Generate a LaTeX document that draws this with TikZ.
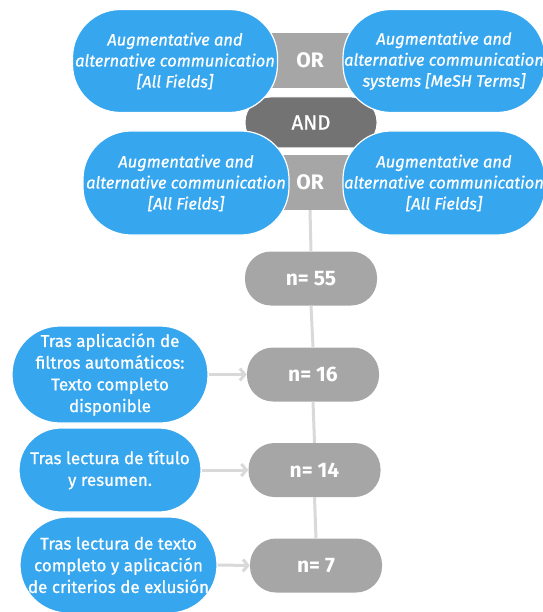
\documentclass[tikz,border=0pt]{standalone}
\usepackage{fontspec}
\setmainfont{Fira Sans}
\newfontfamily\medfont{Fira Sans}[FakeBold=0.8]
\usetikzlibrary{arrows.meta}
\definecolor{pillblue}{HTML}{36A6EE}
\definecolor{orgray}{HTML}{A6A6A6}
\definecolor{andgray}{HTML}{737373}
\definecolor{linegray}{HTML}{D9D9D9}
\tikzset{
  bluepill/.style={fill=pillblue, draw=white, line width=1.2pt, rounded corners=48pt,
    text=white, align=center, inner sep=0pt},
  querytext/.style={font=\medfont\fontsize{16.5}{21}\selectfont\itshape},
  steptext/.style={font=\medfont\fontsize{17}{21.7}\selectfont},
  orbox/.style={fill=orgray, draw=none, text=white, inner sep=0pt,
    minimum width=86pt, minimum height=55pt, font=\fontsize{21}{22}\selectfont\bfseries},
  andpill/.style={fill=andgray, draw=white, line width=1pt, rounded corners=25pt, text=white,
    inner sep=0pt, minimum width=132pt, minimum height=51pt, font=\medfont\fontsize{20.5}{22}\selectfont},
  countpill/.style={fill=orgray, draw=none, rounded corners=26pt, text=white, inner sep=0pt,
    minimum width=132pt, minimum height=54pt, font=\fontsize{21}{22}\selectfont\bfseries},
  vline/.style={draw=linegray, line width=3pt},
  sidearrow/.style={draw=linegray, line width=3pt, -{Straight Barb[length=5pt,width=12pt]}}
}
\begin{document}
\begin{tikzpicture}[x=1pt,y=-1pt]
\useasboundingbox (0,0) rectangle (542,612);
% operator boxes
\node[orbox] (or1) at (310,60.5) {OR};
\node[orbox] (or2) at (310,182.5) {OR};
\node[andpill] (and) at (311,122.5) {AND};
% query pills
\node[bluepill, querytext, minimum width=205pt, minimum height=103pt] (tl) at (175,61)
  {Augmentative and\\alternative communication\\{[}All Fields{]}};
\node[bluepill, querytext, minimum width=202pt, minimum height=103pt] (tr) at (444,61)
  {Augmentative and\\alternative communication\\systems {[}MeSH Terms{]}};
\node[bluepill, querytext, minimum width=206pt, minimum height=104pt] (bl) at (186,183)
  {Augmentative and\\alternative communication\\{[}All Fields{]}};
\node[bluepill, querytext, minimum width=202pt, minimum height=104pt] (br) at (444,183)
  {Augmentative and\\alternative communication\\{[}All Fields{]}};
% counts
\node[countpill] (n55) at (311,278.5) {n= 55};
\node[countpill] (n16) at (313,374.5) {n= 16};
\node[countpill] (n14) at (314.5,470) {n= 14};
\node[countpill] (n7) at (316,565.5) {n= 7};
% steps
\node[bluepill, steptext, minimum width=196pt, minimum height=97pt] (s1) at (110,374.5)
  {Tras aplicación de\\filtros automáticos:\\Texto completo\\disponible};
\node[bluepill, steptext, minimum width=182pt, minimum height=84pt, rounded corners=42pt] (s2) at (110,470)
  {Tras lectura de título\\y resumen.};
\node[bluepill, steptext, minimum width=197pt, minimum height=96pt] (s3) at (118.5,565)
  {Tras lectura de texto\\completo y aplicación\\de criterios de exlusión};
% connectors
\draw[vline] (or2.south) -- (n55.north);
\draw[vline] (n55.south) -- (n16.north);
\draw[vline] (n16.south) -- (n14.north);
\draw[vline] (n14.south) -- (n7.north);
\draw[sidearrow] (s1.east) -- (n16.west);
\draw[sidearrow] (s2.east) -- (n14.west);
\draw[sidearrow] (s3.east) -- (n7.west);
\end{tikzpicture}
\end{document}
